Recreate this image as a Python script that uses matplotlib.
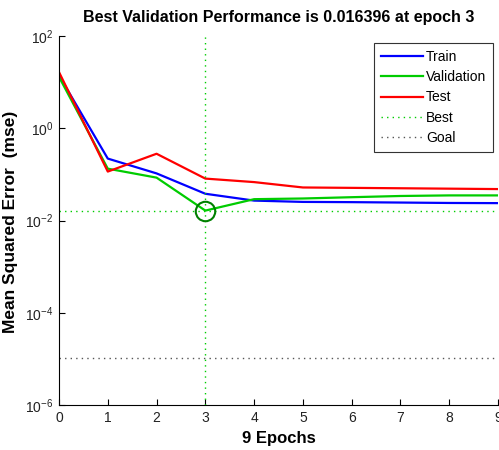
import matplotlib
matplotlib.use("Agg")
import matplotlib.pyplot as plt

plt.rcParams['font.family'] = ['Liberation Sans', 'DejaVu Sans']
plt.rcParams['mathtext.fontset'] = 'custom'
plt.rcParams['mathtext.rm'] = 'Liberation Sans'
plt.rcParams['mathtext.it'] = 'Liberation Sans'
plt.rcParams['mathtext.default'] = 'regular'

epochs = [0, 1, 2, 3, 4, 5, 6, 7, 8, 9]
train = [14.0, 0.22, 0.105, 0.038, 0.027, 0.0253, 0.025, 0.0245, 0.024, 0.0238]
validation = [13.0, 0.133, 0.085, 0.016396, 0.029, 0.030, 0.032, 0.034, 0.035, 0.035]
test = [16.5, 0.115, 0.28, 0.081, 0.068, 0.052, 0.051, 0.050, 0.049, 0.048]
best_epoch = 3
best_perf = 0.016396
goal = 1.05e-5

title = "Best Validation Performance is 0.016396 at epoch 3"
xlabel = "9 Epochs"
ylabel = "Mean Squared Error  (mse)"
yticks = [1e-6, 1e-4, 1e-2, 1e0, 1e2]
ytick_labels = ['$10^{-6}$', '$10^{-4}$', '$10^{-2}$', '$10^{0}$', '$10^{2}$']

fig = plt.figure(figsize=(4.99, 4.5), dpi=100)
ax = fig.add_axes([59/499, 0.1, (498-59)/499, 0.82])

ax.semilogy(epochs, train, color='#0000ff', lw=1.6, label='Train')
ax.semilogy(epochs, validation, color='#00cc00', lw=1.6, label='Validation')
ax.semilogy(epochs, test, color='#ff0000', lw=1.6, label='Test')
ax.axhline(best_perf, color='#00cc00', ls=(0, (1, 3)), lw=1.0, label='Best')
ax.axvline(best_epoch, color='#00cc00', ls=(0, (1, 3)), lw=1.0)
ax.axhline(goal, color='#555555', ls=(0, (1, 3)), lw=1.0, label='Goal')
ax.plot([best_epoch], [best_perf], 'o', mfc='none', mec='#008000', ms=14, mew=1.5)

ax.set_xlim(0, 9)
ax.set_ylim(1e-6, 1e2)
ax.set_xticks(epochs)
ax.set_yticks(yticks)
ax.set_yticklabels(ytick_labels)
ax.minorticks_off()
ax.tick_params(direction='in', length=4, labelsize=10, labelcolor='#222222', pad=4)
ax.spines['top'].set_visible(False)
ax.spines['right'].set_visible(False)

ax.set_title(title, fontsize=11.5, fontweight='bold', pad=10)
ax.set_xlabel(xlabel, fontsize=12, fontweight='bold', labelpad=5)
ax.set_ylabel(ylabel, fontsize=12.5, fontweight='bold')
ax.yaxis.set_label_coords(-0.093, 0.495)

leg = ax.legend(loc='upper right', bbox_to_anchor=(493/499, 1 - 43/450), bbox_transform=fig.transFigure,
                fontsize=10, handlelength=3.0, fancybox=False, framealpha=1, edgecolor='#333333',
                borderpad=0.5, labelspacing=0.45, handletextpad=0.2, borderaxespad=0)
leg.get_frame().set_linewidth(0.8)

fig.savefig('out.png', dpi=100)
